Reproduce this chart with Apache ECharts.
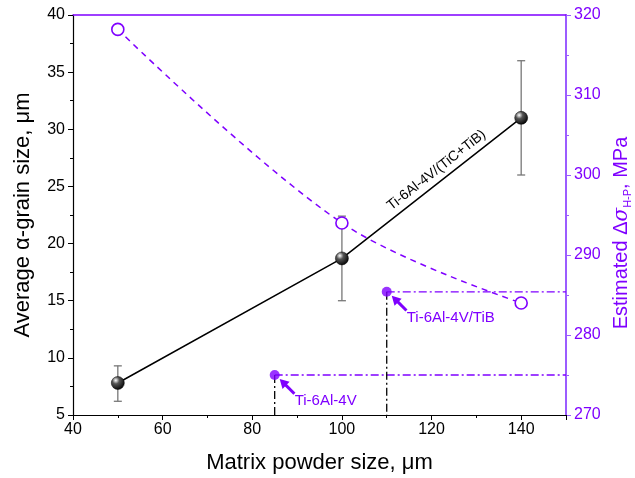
<!DOCTYPE html>
<html><head><meta charset="utf-8">
<script src="https://cdn.jsdelivr.net/npm/echarts@6/dist/echarts.min.js"></script>
<style>html,body{margin:0;padding:0;background:#fff}#c{width:635px;height:478px}</style>
</head><body><div id="c"></div>
<script>
// ---- data ----
const powderSize = [50, 100, 140];
const grainSize = [7.8, 18.7, 31.0];
const grainErrLow = [6.2, 15.0, 26.0];
const grainErrHigh = [9.3, 22.4, 36.0];
const strengthHP = [318.2, 294.0, 284.0];
const refX = [85, 110];
const refY = [275.0, 285.4];
const refLabels = ['Ti-6Al-4V', 'Ti-6Al-4V/TiB'];
const lineLabel = 'Ti-6Al-4V/(TiC+TiB)';
const xTicks = {min: 40, max: 150, interval: 20};
const yLeftTicks = {min: 5, max: 40, interval: 5};
const yRightTicks = {min: 270, max: 320, interval: 10};

const PURPLE = '#7F00FF';
const PURPLE_AXIS = '#9B5CFF';
const FONT = 'Liberation Sans, Arial, sans-serif';

const chart = echarts.init(document.getElementById('c'), null, {renderer: 'canvas'});

const sphere = {
  type: 'radial', x: 0.35, y: 0.3, r: 0.75,
  colorStops: [{offset: 0, color: '#ffffff'}, {offset: 0.35, color: '#555'}, {offset: 1, color: '#000'}]
};

const hLines = refX.map((x, i) => ({
  type: 'line', xAxisIndex: 0, yAxisIndex: 1, symbol: 'none', silent: true, z: 1,
  data: [[x, refY[i]], [xTicks.max, refY[i]]],
  lineStyle: {color: PURPLE, width: 1.3, type: [8, 3, 2, 3]}
}));
const vLines = refX.map((x, i) => ({
  type: 'line', xAxisIndex: 0, yAxisIndex: 1, symbol: 'none', silent: true, z: 1,
  data: [[x, refY[i]], [x, yRightTicks.min]],
  lineStyle: {color: '#000', width: 1.3, type: [8, 3, 2, 3]}
}));

chart.setOption({
  animation: false,
  textStyle: {fontFamily: FONT},
  grid: {left: 73, right: 69, top: 15, bottom: 63, containLabel: false, outerBoundsMode: 'none'},
  xAxis: [{
    type: 'value', min: xTicks.min, max: xTicks.max, interval: xTicks.interval,
    name: 'Matrix powder size, μm', nameLocation: 'middle', nameGap: 37,
    nameTextStyle: {fontSize: 22, color: '#000', fontFamily: FONT},
    axisLine: {onZero: false, lineStyle: {color: '#000', width: 1.2}},
    axisTick: {length: 5, lineStyle: {color: '#000'}},
    minorTick: {show: true, splitNumber: 2, length: 3, lineStyle: {color: '#000'}},
    axisLabel: {fontSize: 16, color: '#000', margin: 7, fontFamily: FONT, showMaxLabel: false},
    splitLine: {show: false}
  }, {
    type: 'value', position: 'top', min: xTicks.min, max: xTicks.max,
    axisLine: {show: true, onZero: false, lineStyle: {color: PURPLE, width: 1.5}},
    axisTick: {show: false}, axisLabel: {show: false}, splitLine: {show: false}
  }],
  yAxis: [{
    type: 'value', min: yLeftTicks.min, max: yLeftTicks.max, interval: yLeftTicks.interval,
    name: 'Average α-grain size, μm', nameLocation: 'middle', nameGap: 39,
    nameTextStyle: {fontSize: 22, color: '#000', fontFamily: FONT},
    axisLine: {show: true, onZero: false, lineStyle: {color: '#000', width: 1.2}},
    axisTick: {length: 5, lineStyle: {color: '#000'}},
    minorTick: {show: true, splitNumber: 2, length: 3, lineStyle: {color: '#000'}},
    axisLabel: {fontSize: 16, color: '#000', margin: 8, fontFamily: FONT},
    splitLine: {show: false}
  }, {
    type: 'value', position: 'right', min: yRightTicks.min, max: yRightTicks.max, interval: yRightTicks.interval,
    name: '{a|Estimated Δ}{s|σ}{sub|H-P}{a|, MPa}', nameLocation: 'middle', nameGap: 42, nameRotate: 90,
    nameTextStyle: {
      color: PURPLE, fontFamily: FONT, padding: [0, 36, 0, 0],
      rich: {
        a: {fontSize: 20, color: PURPLE, fontFamily: FONT, lineHeight: 24, verticalAlign: 'middle'},
        s: {fontSize: 20, color: PURPLE, fontFamily: 'DejaVu Serif', fontStyle: 'italic', lineHeight: 24, verticalAlign: 'middle'},
        sub: {fontSize: 11, color: PURPLE, fontFamily: FONT, lineHeight: 11, verticalAlign: 'bottom', padding: [8, 0, 0, 0]}
      }
    },
    axisLine: {show: true, onZero: false, lineStyle: {color: PURPLE_AXIS, width: 2}},
    axisTick: {length: 5, lineStyle: {color: PURPLE_AXIS}},
    minorTick: {show: true, splitNumber: 2, length: 3, lineStyle: {color: PURPLE_AXIS}},
    axisLabel: {fontSize: 16, color: PURPLE, margin: 8, fontFamily: FONT},
    splitLine: {show: false}
  }],
  series: [
    ...hLines, ...vLines,
    {
      type: 'line', xAxisIndex: 0, yAxisIndex: 1, z: 3,
      data: powderSize.map((x, i) => [x, strengthHP[i]]),
      smooth: 0.35, symbol: 'circle', symbolSize: 12,
      itemStyle: {color: '#fff', borderColor: PURPLE, borderWidth: 1.6},
      lineStyle: {color: PURPLE, width: 1.5, type: [6, 5]}
    },
    {
      type: 'custom', xAxisIndex: 0, yAxisIndex: 0, z: 2, clip: false,
      data: powderSize.map((x, i) => [x, grainErrLow[i], grainErrHigh[i]]),
      renderItem: function (params, api) {
        const lo = api.coord([api.value(0), api.value(1)]);
        const hi = api.coord([api.value(0), api.value(2)]);
        const w = 4;
        const st = {stroke: '#777', lineWidth: 1.3};
        return {type: 'group', children: [
          {type: 'line', shape: {x1: lo[0], y1: lo[1], x2: hi[0], y2: hi[1]}, style: st},
          {type: 'line', shape: {x1: lo[0] - w, y1: lo[1], x2: lo[0] + w, y2: lo[1]}, style: st},
          {type: 'line', shape: {x1: hi[0] - w, y1: hi[1], x2: hi[0] + w, y2: hi[1]}, style: st}
        ]};
      }
    },
    {
      type: 'line', xAxisIndex: 0, yAxisIndex: 0, z: 4,
      data: powderSize.map((x, i) => [x, grainSize[i]]),
      symbol: 'circle', symbolSize: 13,
      itemStyle: {color: sphere, borderColor: '#000', borderWidth: 0.5},
      lineStyle: {color: '#000', width: 1.5}
    },
    {
      type: 'scatter', xAxisIndex: 0, yAxisIndex: 1, z: 5,
      data: refX.map((x, i) => [x, refY[i]]),
      symbol: 'circle', symbolSize: 10, itemStyle: {color: PURPLE}
    },
    {
      type: 'custom', xAxisIndex: 0, yAxisIndex: 1, z: 6, clip: false,
      data: refX.map((x, i) => [x, refY[i], i]),
      renderItem: function (params, api) {
        const p = api.coord([api.value(0), api.value(1)]);
        const i = api.value(2);
        const tx = p[0] + 5, ty = p[1] + 4;
        const d = Math.SQRT1_2;
        const hl = 9, hw = 5;
        const bx = tx + hl * d, by = ty + hl * d;
        return {type: 'group', children: [
          {type: 'polygon', shape: {points: [[tx, ty], [bx - hw * d, by + hw * d], [bx + hw * d, by - hw * d]]}, style: {fill: PURPLE}},
          {type: 'line', shape: {x1: bx - 1, y1: by - 1, x2: tx + 18 * d + 2, y2: ty + 18 * d + 2}, style: {stroke: PURPLE, lineWidth: 3}},
          {type: 'text', x: p[0] + 20, y: p[1] + 26, style: {text: refLabels[i], fill: PURPLE, fontSize: 15, fontFamily: FONT, align: 'left', verticalAlign: 'middle'}}
        ]};
      }
    },
    {
      type: 'custom', xAxisIndex: 0, yAxisIndex: 0, z: 6, clip: false,
      data: [[0]],
      renderItem: function (params, api) {
        const a = api.coord([powderSize[1], grainSize[1]]);
        const b = api.coord([powderSize[2], grainSize[2]]);
        const dx = b[0] - a[0], dy = b[1] - a[1];
        const len = Math.hypot(dx, dy);
        const ux = dx / len, uy = dy / len;
        const nx = uy, ny = -ux;
        const mx = (a[0] + b[0]) / 2 + ux * 15 + nx * 11;
        const my = (a[1] + b[1]) / 2 + uy * 15 + ny * 11;
        return {type: 'text', x: mx, y: my, rotation: Math.atan2(-dy, dx),
          style: {text: lineLabel, fill: '#000', fontSize: 14, fontFamily: FONT, align: 'center', verticalAlign: 'middle'}};
      }
    }
  ]
});
</script></body></html>
